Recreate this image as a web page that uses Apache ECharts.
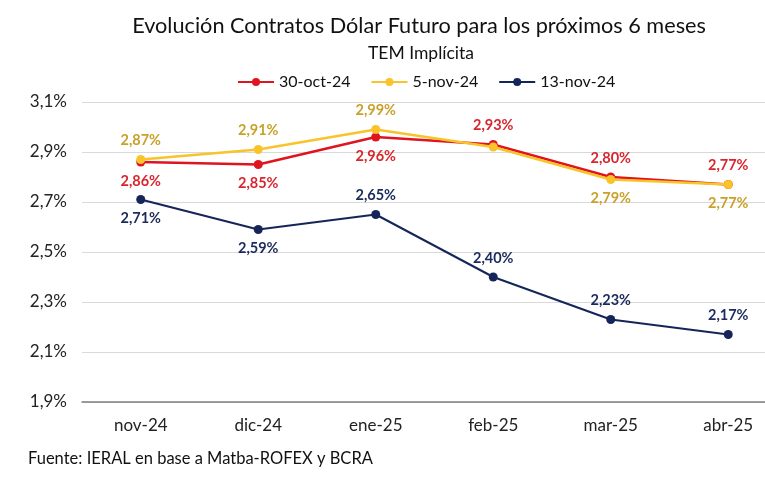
<!DOCTYPE html>
<html><head><meta charset="utf-8">
<script src="https://cdn.jsdelivr.net/npm/echarts@6/dist/echarts.min.js"></script>
<style>html,body{margin:0;padding:0;background:#fff}#c{width:765px;height:488px}</style>
</head><body><div id="c"></div>
<script>
const categories = ['nov-24','dic-24','ene-25','feb-25','mar-25','abr-25'];
const s30oct = [2.86, 2.85, 2.96, 2.93, 2.80, 2.77];
const s5nov = [2.87, 2.91, 2.99, 2.92, 2.79, 2.77];
const s13nov = [2.71, 2.59, 2.65, 2.40, 2.23, 2.17];
const seriesNames = ['30-oct-24','5-nov-24','13-nov-24'];
const labelPos30 = ['bottom','bottom','bottom','top','top','top'];
const labelPos5 = ['top','top','top','none','bottom','bottom'];
const labelPos13 = ['bottom','bottom','top','top','top','top'];

const FONT = 'Lato';
const fmt = v => v.toFixed(2).replace('.', ',') + '%';
function mk(vals, pos, labelColor) {
  return vals.map((v, i) => ({
    value: v,
    label: pos[i] === 'none' ? {show: false} : {show: true, position: pos[i], distance: 7, color: labelColor, fontWeight: 'bold', fontSize: 14.5, fontFamily: FONT, formatter: p => fmt(p.value)}
  }));
}
const chart = echarts.init(document.getElementById('c'), null, {renderer: 'canvas'});
chart.setOption({
  animation: false,
  title: [
    {text: 'Evolución Contratos Dólar Futuro para los próximos 6 meses', left: 414, textAlign: 'center', top: 10,
     textStyle: {fontFamily: FONT, fontSize: 21.7, fontWeight: 'normal', color: '#111'}},
    {text: 'TEM Implícita', left: 416, textAlign: 'center', top: 39, textStyle: {fontFamily: FONT, fontSize: 17.5, fontWeight: 'normal', color: '#111'}},
    {text: 'Fuente: IERAL en base a Matba-ROFEX y BCRA', left: 23, top: 445, textStyle: {fontFamily: FONT, fontSize: 16.5, fontWeight: 'normal', color: '#111'}}
  ],
  legend: {top: 69, left: 232, itemWidth: 36, itemHeight: 10, itemGap: 20,
    textStyle: {fontFamily: FONT, fontSize: 16, color: '#111'}, data: seriesNames},
  grid: {left: 82, width: 705, top: 102, bottom: 86, outerBoundsMode: 'none', containLabel: false},
  xAxis: {type: 'category', data: categories, boundaryGap: true,
    axisLine: {lineStyle: {color: '#7f7f7f', width: 1.5}}, axisTick: {show: false},
    axisLabel: {fontFamily: FONT, fontSize: 17, color: '#222', margin: 15}},
  yAxis: {type: 'value', min: 1.9, max: 3.1, interval: 0.2,
    axisLabel: {fontFamily: FONT, fontSize: 17, color: '#222', margin: 15, formatter: v => v.toFixed(1).replace('.', ',') + '%'},
    splitLine: {lineStyle: {color: '#d9d9d9', width: 1}}, axisLine: {show: false}, axisTick: {show: false}},
  series: [
    {name: seriesNames[0], type: 'line', data: mk(s30oct, labelPos30, '#d8262d'), symbol: 'circle', symbolSize: 9,
     lineStyle: {color: '#e0141e', width: 2.5}, itemStyle: {color: '#e0141e'}, z: 3},
    {name: seriesNames[1], type: 'line', data: mk(s5nov, labelPos5, '#c9a12a'), symbol: 'circle', symbolSize: 9,
     lineStyle: {color: '#f8c42a', width: 2.5}, itemStyle: {color: '#f8c42a'}, z: 4},
    {name: seriesNames[2], type: 'line', data: mk(s13nov, labelPos13, '#1b2a5c'), symbol: 'circle', symbolSize: 9,
     lineStyle: {color: '#15255a', width: 2}, itemStyle: {color: '#15255a'}, z: 5}
  ]
});
</script></body></html>
